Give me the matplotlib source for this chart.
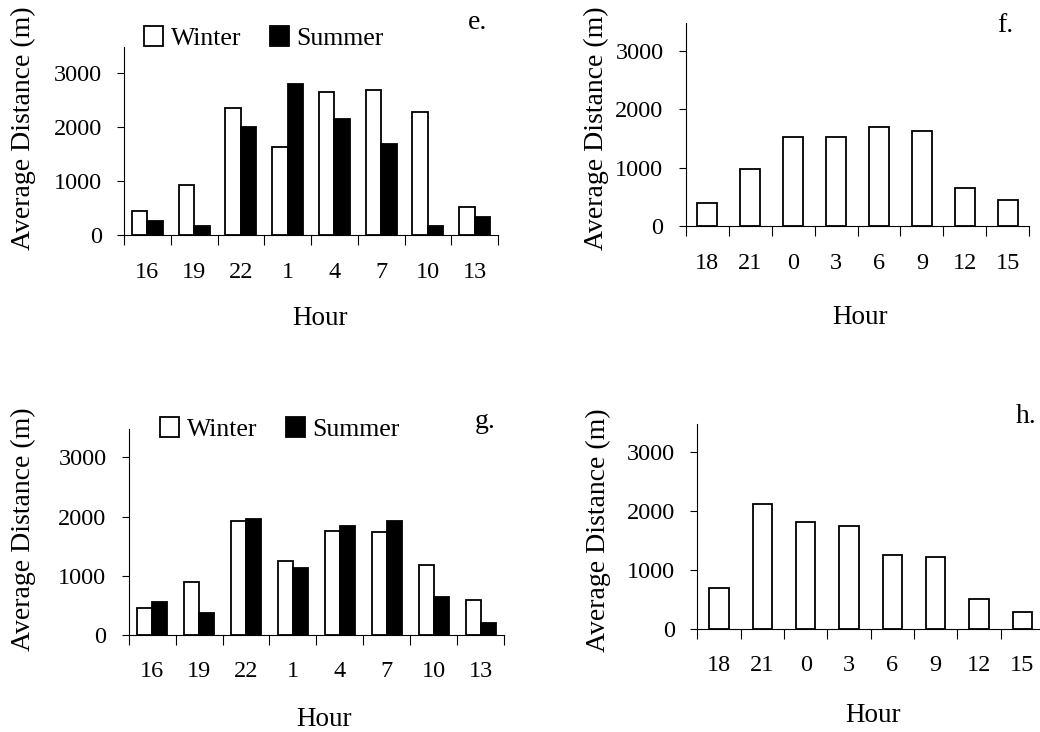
import numpy as np
import matplotlib
matplotlib.use("Agg")
import matplotlib.pyplot as plt

plt.rcParams['font.family'] = ['Liberation Serif', 'DejaVu Serif']

# hour labels
hours_eg = ['16', '19', '22', '1', '4', '7', '10', '13']
hours_fh = ['18', '21', '0', '3', '6', '9', '12', '15']

# average distance (m)
winter_e = [450, 930, 2345, 1635, 2645, 2690, 2280, 520]
summer_e = [265, 180, 1990, 2800, 2150, 1680, 165, 335]
values_f = [395, 980, 1520, 1520, 1695, 1635, 660, 445]
winter_g = [450, 900, 1930, 1245, 1765, 1740, 1180, 595]
summer_g = [555, 365, 1955, 1135, 1845, 1930, 640, 210]
values_h = [685, 2115, 1815, 1740, 1255, 1215, 500, 285]

W, H = 1040, 732
fig = plt.figure(figsize=(W / 100, H / 100), dpi=100)


def px_rect(left, right, bottom, top):
    return [left / W, 1 - bottom / H, (right - left) / W, (bottom - top) / H]


def setup(ax, labels, ylab_xy, xlab_xy):
    n = len(labels)
    ax.set_xlim(0, n)
    ax.set_ylim(0, 3475)
    ax.set_yticks([0, 1000, 2000, 3000])
    ax.set_xticks(np.arange(n) + 0.5)
    ax.set_xticklabels(labels)
    ax.set_xticks(np.arange(n + 1), minor=True)
    ax.tick_params(axis='x', which='major', length=0, pad=19, labelsize=17.5)
    ax.tick_params(axis='x', which='minor', length=7, width=0.8, direction='out')
    ax.tick_params(axis='y', length=5, width=0.8, pad=11, labelsize=17.5)
    for s in ['top', 'right']:
        ax.spines[s].set_visible(False)
    for s in ['left', 'bottom']:
        ax.spines[s].set_linewidth(0.8)
    ax.set_ylabel('Average Distance (m)', fontsize=20)
    ax.set_xlabel('Hour', fontsize=19.5)
    ax.yaxis.set_label_coords(*ylab_xy)
    ax.xaxis.set_label_coords(*xlab_xy)


def paired(ax, winter, summer, w, leg_xy):
    x = np.arange(len(winter)) + 0.5
    b1 = ax.bar(x - w / 2, winter, w, color='white', edgecolor='black', linewidth=1.3, label='Winter')
    b2 = ax.bar(x + w / 2, summer, w, color='black', edgecolor='black', linewidth=1.3, label='Summer')
    ax.legend([b1, b2], ['Winter', 'Summer'], ncol=2, frameon=False, loc='center left',
              bbox_to_anchor=(leg_xy[0] / W, 1 - leg_xy[1] / H), bbox_transform=fig.transFigure,
              fontsize=18.5, handlelength=0.75, handleheight=0.85, handletextpad=0.3,
              columnspacing=1.1, borderpad=0, borderaxespad=0)


def single(ax, vals, w):
    x = np.arange(len(vals)) + 0.5
    ax.bar(x, vals, w, color='white', edgecolor='black', linewidth=1.3)


# panel e
ax_e = fig.add_axes(px_rect(124, 498, 235.3, 47))
paired(ax_e, winter_e, summer_e, 0.33, (144, 38))
setup(ax_e, hours_eg, (-0.235, 0.567), (0.524, -0.375))

# panel f
ax_f = fig.add_axes(px_rect(685.7, 1029.3, 226.3, 22.7))
single(ax_f, values_f, 0.46)
setup(ax_f, hours_fh, (-0.222, 0.48), (0.506, -0.387))

# panel g
ax_g = fig.add_axes(px_rect(128.7, 504, 635, 429.3))
paired(ax_g, winter_g, summer_g, 0.32, (160, 429))
setup(ax_g, hours_eg, (-0.246, 0.514), (0.52, -0.35))

# panel h
ax_h = fig.add_axes(px_rect(697.3, 1044, 628.7, 424.3))
single(ax_h, values_h, 0.45)
setup(ax_h, hours_fh, (-0.25, 0.483), (0.508, -0.365))

# panel letters
for txt, x, y in [('e.', 468, 29.3), ('f.', 997, 31.7), ('g.', 475, 428.3), ('h.', 1016, 423.3)]:
    fig.text(x / W, 1 - y / H, txt, fontsize=20, ha='left', va='baseline')

fig.savefig('out.png', dpi=100)
